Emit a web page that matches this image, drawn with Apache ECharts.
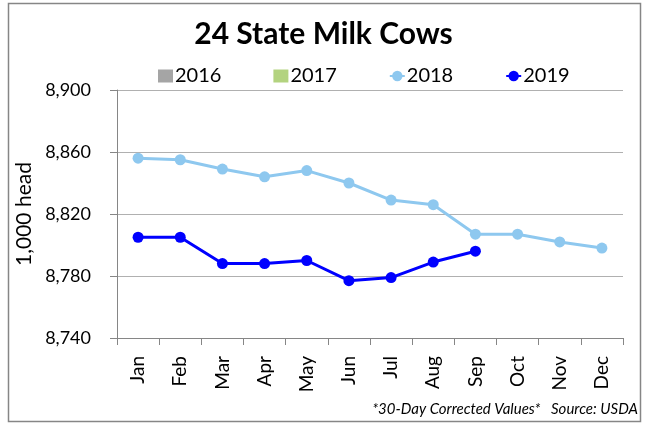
<!DOCTYPE html>
<html><head><meta charset="utf-8">
<script src="https://cdn.jsdelivr.net/npm/echarts@6/dist/echarts.min.js"></script>
<style>html,body{margin:0;padding:0;background:#fff}#c{width:647px;height:425px}</style>
</head><body><div id="c"></div>
<script>
const months = ['Jan','Feb','Mar','Apr','May','Jun','Jul','Aug','Sep','Oct','Nov','Dec'];
const s2016 = [];
const s2017 = [];
const s2018 = [8856, 8855, 8849, 8844, 8848, 8840, 8829, 8826, 8807, 8807, 8802, 8798];
const s2019 = [8805, 8805, 8788, 8788, 8790, 8777, 8779, 8789, 8796];
const F = 'Lato, "Open Sans", sans-serif';
const chart = echarts.init(document.getElementById('c'));
chart.setOption({
  animation: false,
  graphic: [
    {type:'rect', shape:{x:8.5,y:3.5,width:632,height:418}, style:{fill:'none', stroke:'#868686', lineWidth:1.5}, z:-1},
    {type:'text', right:9, top:402, style:{text:'*30-Day Corrected Values*   Source: USDA', font:'italic 15px '+F, fill:'#000'}}
  ],
  title: {text:'24 State Milk Cows', left:'center', top:14, textStyle:{fontFamily:F, fontSize:30, fontWeight:'bold', color:'#000'}},
  legend: {
    top:61, left:153, itemGap:52, itemWidth:15, itemHeight:13,
    textStyle:{fontFamily:F, fontSize:20, color:'#000', padding:[0,0,0,-3]},
    data:[
      {name:'2016', icon:'rect'},
      {name:'2017', icon:'rect'},
      {name:'2018'},
      {name:'2019'}
    ]
  },
  grid: {left:117, right:24, top:90, bottom:87},
  xAxis: {
    type:'category', data:months, boundaryGap:true,
    axisLine:{lineStyle:{color:'#868686'}},
    axisTick:{show:true, length:7, lineStyle:{color:'#868686'}},
    axisLabel:{rotate:90, fontFamily:F, fontSize:19, color:'#000', margin:18}
  },
  yAxis: {
    type:'value', min:8740, max:8900, interval:40,
    name:'1,000 head', nameLocation:'middle', nameGap:82, nameRotate:90,
    nameTextStyle:{fontFamily:F, fontSize:21, color:'#000'},
    axisLine:{show:true, lineStyle:{color:'#868686'}},
    axisTick:{show:true, length:7, lineStyle:{color:'#868686'}},
    splitLine:{lineStyle:{color:'#b0b0b0'}},
    axisLabel:{fontFamily:F, fontSize:18, color:'#000', margin:26,
      formatter:v=>v.toLocaleString('en-US')}
  },
  series: [
    {name:'2016', type:'line', data:s2016, itemStyle:{color:'#a5a5a5'}},
    {name:'2017', type:'line', data:s2017, itemStyle:{color:'#b3d37f'}},
    {name:'2018', type:'line', data:s2018, symbol:'circle', symbolSize:11,
      lineStyle:{color:'#8ec8ef', width:3}, itemStyle:{color:'#8ec8ef'}},
    {name:'2019', type:'line', data:s2019, symbol:'circle', symbolSize:11,
      lineStyle:{color:'#0000ff', width:3}, itemStyle:{color:'#0000ff'}}
  ]
});
</script></body></html>
